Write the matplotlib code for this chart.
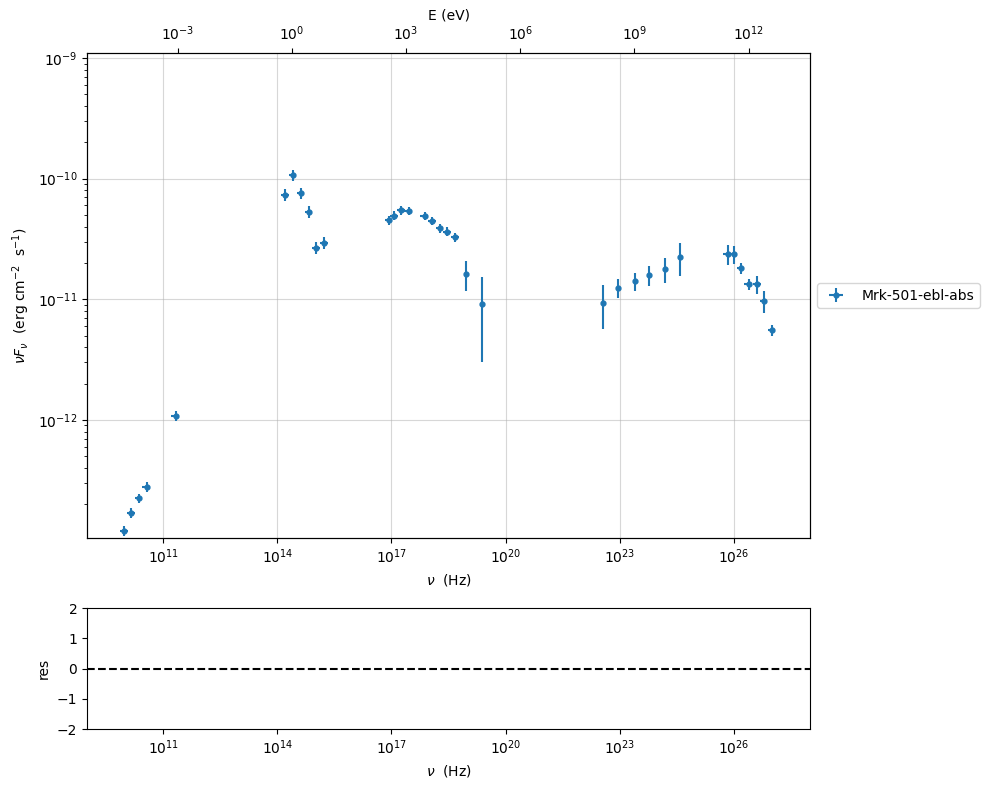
import numpy as np
import matplotlib
matplotlib.use("Agg")
import matplotlib.pyplot as plt

# SED data points (Hz, erg cm^-2 s^-1)
nu = [9.55e9, 1.45e10, 2.29e10, 3.72e10, 2.14e11,
      1.62e14, 2.57e14, 4.17e14, 6.76e14, 1.07e15, 1.74e15,
      8.51e16, 1.20e17, 1.80e17, 2.85e17, 7.41e17, 1.175e18, 1.86e18, 2.95e18, 4.79e18, 8.91e18, 2.34e19,
      3.72e22, 9.23e22, 2.45e23, 6.03e23, 1.51e24, 3.80e24,
      6.92e25, 1.00e26, 1.51e26, 2.45e26, 4.07e26, 6.17e26, 1.00e27]
nufnu = [1.20e-13, 1.70e-13, 2.24e-13, 2.79e-13, 1.08e-12,
         7.36e-11, 1.07e-10, 7.59e-11, 5.28e-11, 2.66e-11, 2.95e-11,
         4.54e-11, 4.93e-11, 5.50e-11, 5.40e-11, 4.93e-11, 4.47e-11, 3.89e-11, 3.63e-11, 3.28e-11, 1.62e-11, 9.1e-12,
         9.33e-12, 1.24e-11, 1.41e-11, 1.585e-11, 1.78e-11, 2.24e-11,
         2.37e-11, 2.37e-11, 1.82e-11, 1.34e-11, 1.33e-11, 9.7e-12, 5.56e-12]
err_nufnu = [1.1e-14, 1.5e-14, 2.0e-14, 2.5e-14, 1.0e-13,
             8.5e-12, 1.2e-11, 8.5e-12, 6.0e-12, 3.0e-12, 3.2e-12,
             3.8e-12, 4.2e-12, 4.6e-12, 4.5e-12, 4.0e-12, 3.7e-12, 3.3e-12, 3.1e-12, 2.8e-12, 4.5e-12, 6.1e-12,
             3.7e-12, 2.2e-12, 2.4e-12, 2.95e-12, 4.2e-12, 6.9e-12,
             4.6e-12, 3.9e-12, 1.85e-12, 1.4e-12, 2.2e-12, 2.05e-12, 6.2e-13]
err_nu = [2.2e9, 3.3e9, 5.2e9, 8.5e9, 4.9e10,
          3.7e13, 5.9e13, 9.5e13, 1.5e14, 2.4e14, 4.0e14,
          1.9e16, 2.7e16, 4.1e16, 6.5e16, 1.7e17, 2.7e17, 4.2e17, 6.7e17, 1.1e18, 0.0, 0.0,
          0.0, 0.0, 0.0, 0.0, 0.0, 0.0,
          1.6e25, 2.3e25, 3.4e25, 5.6e25, 9.3e25, 1.4e26, 2.3e26]

h_ev = 4.135667696e-15
x_lim = (1e9, 1e28)
y_lim = (1.05e-13, 1.1e-9)

fig = plt.figure(figsize=(9.9, 7.89), dpi=100)
ax = fig.add_axes([0.0879, 0.3181, 0.7303, 0.6147])
ax_res = fig.add_axes([0.0879, 0.0760, 0.7303, 0.1534])

ax.errorbar(nu, nufnu, yerr=err_nufnu, xerr=err_nu, fmt="o", ms=3.5,
            color="C0", label="Mrk-501-ebl-abs")
ax.set_xscale("log")
ax.set_yscale("log")
ax.set_xlim(*x_lim)
ax.set_ylim(*y_lim)
ax.grid(True, alpha=0.5)
ax.set_xlabel(r"$\nu$  (Hz)")
ax.set_ylabel(r"$\nu F_{\nu}$  (erg cm$^{-2}$  s$^{-1}$)")
ax.legend(loc="center left", bbox_to_anchor=(1.0, 0.5))

ax_top = ax.twiny()
ax_top.set_xscale("log")
ax_top.set_xlim(x_lim[0] * h_ev, x_lim[1] * h_ev)
ax_top.set_xlabel("E (eV)")

ax_res.axhline(0, color="k", ls="--")
ax_res.set_xscale("log")
ax_res.set_xlim(*x_lim)
ax_res.set_ylim(-2, 2)
ax_res.set_yticks([-2, -1, 0, 1, 2])
ax_res.set_xlabel(r"$\nu$  (Hz)")
ax_res.set_ylabel("res")

fig.savefig("out.png", dpi=100)
